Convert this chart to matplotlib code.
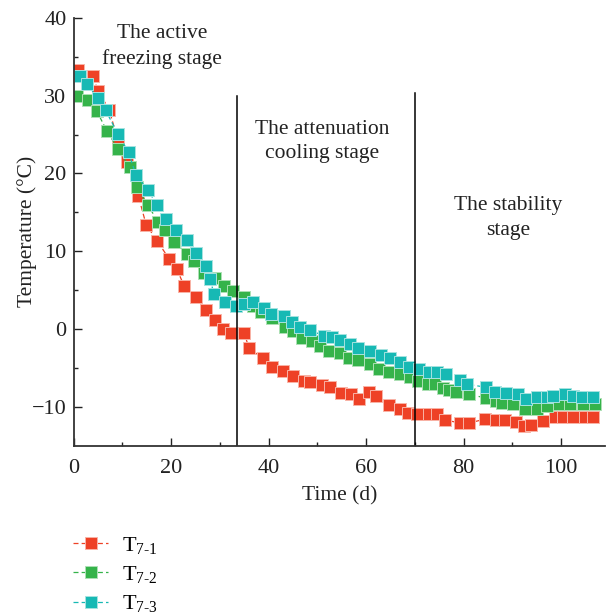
import matplotlib
matplotlib.use("Agg")
import matplotlib.pyplot as plt

plt.rcParams['font.family'] = ['Liberation Serif', 'DejaVu Serif']
plt.rcParams['mathtext.fontset'] = 'custom'
plt.rcParams['mathtext.rm'] = 'Liberation Serif'
plt.rcParams['mathtext.it'] = 'Liberation Serif:italic'

# ---- data ----
t1_x = [1.0, 3.9, 5.1, 7.3, 9.2, 11.0, 13.3, 14.9, 17.2, 19.6, 21.2, 22.7,
        25.1, 27.2, 29.0, 30.6, 32.3, 35.0, 36.0, 38.9, 40.7, 42.9, 45.0, 47.2,
        48.6, 51.0, 52.7, 54.9, 56.9, 58.6, 60.7, 62.1, 64.7, 66.9, 68.6, 70.5,
        72.9, 74.6, 76.1, 79.2, 81.2, 84.4, 86.7, 88.4, 90.7, 92.4, 93.9, 96.3,
        98.7, 100.4, 102.5, 104.8, 106.5]
t1_y = [33.3, 32.5, 30.6, 28.2, 24.1, 21.5, 17.1, 13.4, 11.3, 9.0, 7.7, 5.5,
        4.1, 2.4, 1.2, 0.0, -0.5, -0.5, -2.5, -3.8, -4.9, -5.4, -6.0, -6.7,
        -6.8, -7.2, -7.5, -8.2, -8.4, -9.0, -8.1, -8.6, -9.8, -10.3, -10.8, -11.0,
        -10.9, -10.9, -11.7, -12.1, -12.1, -11.6, -11.7, -11.7, -12.0, -12.5, -12.4, -11.8,
        -11.3, -11.3, -11.3, -11.3, -11.3]

t2_x = [0.8, 3.0, 4.8, 6.9, 9.2, 11.5, 13.0, 15.2, 17.4, 18.8, 20.6, 23.2,
        24.8, 26.8, 29.1, 30.9, 32.7, 34.9, 36.8, 38.5, 40.7, 43.4, 45.1, 46.9, 48.9,
        50.6, 52.5, 54.7, 56.4, 58.4, 60.9, 62.7, 64.8, 67.0, 69.0, 70.7, 72.6,
        74.1, 75.7, 77.1, 78.5, 81.2, 84.5, 86.6, 87.8, 90.1, 92.5, 95.1, 97.2,
        99.5, 101.9, 104.4, 106.9]
t2_y = [30.0, 29.5, 28.0, 25.4, 23.1, 20.8, 18.2, 16.0, 13.7, 12.7, 11.2, 9.7,
        8.8, 7.2, 6.5, 5.5, 4.9, 4.1, 3.0, 2.2, 1.4, 0.3, -0.3, -1.2, -1.5,
        -2.2, -2.8, -3.1, -3.8, -4.0, -4.5, -5.2, -5.6, -5.8, -6.2, -6.7, -7.1,
        -7.1, -7.6, -7.9, -8.1, -8.4, -8.9, -9.3, -9.5, -9.7, -10.3, -10.3, -9.9,
        -9.7, -9.6, -9.6, -9.6]

t3_x = [1.3, 2.8, 5.0, 6.6, 9.1, 11.3, 12.8, 15.2, 17.1, 19.0, 21.0, 23.2,
        25.2, 27.2, 27.9, 28.9, 31.0, 33.4, 35.0, 36.8, 39.1, 40.6, 43.2, 44.8,
        46.5, 48.6, 51.4, 53.0, 54.6, 56.8, 58.3, 60.9, 63.1, 65.0, 66.9, 68.9,
        70.8, 72.9, 74.6, 76.3, 79.2, 80.6, 84.5, 86.4, 88.7, 91.1, 92.9, 95.0,
        97.2, 98.3, 100.7, 102.5, 104.2, 106.6]
t3_y = [32.6, 31.5, 29.7, 28.1, 25.1, 22.7, 19.8, 17.9, 16.0, 14.2, 12.7, 11.5,
        9.8, 8.1, 6.4, 4.5, 3.5, 2.9, 3.2, 3.4, 2.7, 1.9, 1.6, 0.9,
        0.3, -0.2, -0.9, -1.0, -1.4, -1.9, -2.5, -2.9, -3.4, -3.8, -4.3, -4.9,
        -5.1, -5.5, -5.5, -5.8, -6.6, -7.1, -7.5, -8.1, -8.2, -8.4, -9.0, -8.8,
        -8.8, -8.6, -8.4, -8.6, -8.8, -8.8]

series_labels = ['T$_{7\u20101}$', 'T$_{7\u20102}$', 'T$_{7\u20103}$']
series_colors = ['#EE4126', '#35B34A', '#17B9B4']
edge_colors = ['#F9B3A6', '#ADE0B5', '#A6E3E0']

stage_bounds = [33.5, 70.0]
stage_tops = [30.0, 30.3]
stage_texts = ['The active\nfreezing stage', 'The attenuation\ncooling stage',
               'The stability\nstage']
stage_text_pos = [(18.2, 36.3), (51.0, 24.1), (89.2, 14.3)]

# ---- figure ----
fig = plt.figure(figsize=(6.11, 6.16), dpi=100)
ax = fig.add_axes([73.5 / 611, 1 - 445.5 / 616, (605 - 73.5) / 611, (445.5 - 18) / 616])

for xs, ys, lab, c, ec in zip([t1_x, t2_x, t3_x], [t1_y, t2_y, t3_y],
                              series_labels, series_colors, edge_colors):
    ax.plot(xs, ys, linestyle=(0, (4, 2.5)), linewidth=0.9, color=c,
            marker='s', markersize=8.3, markerfacecolor=c, markeredgecolor=ec,
            markeredgewidth=0.7, label=lab)

for xb, yt in zip(stage_bounds, stage_tops):
    ax.plot([xb, xb], [-15, yt], color='black', linewidth=1.1)

for txt, (tx, ty) in zip(stage_texts, stage_text_pos):
    ax.text(tx, ty, txt, ha='center', va='center', fontsize=15.5,
            linespacing=1.4, color='#222222')

ax.set_xlim(0, 109)
ax.set_ylim(-15, 40)
ax.set_xticks([0, 20, 40, 60, 80, 100])
ax.set_xticks([10, 30, 50, 70, 90], minor=True)
ax.set_yticks([-10, 0, 10, 20, 30, 40])
ax.set_yticks([-5, 5, 15, 25, 35], minor=True)
ax.tick_params(which='both', direction='in', labelsize=16, colors='#222222',
               width=1.0)
ax.tick_params(which='major', length=6)
ax.tick_params(which='minor', length=3)
ax.tick_params(axis='x', pad=10)
ax.tick_params(axis='y', pad=5)
for s in ['top', 'right']:
    ax.spines[s].set_visible(False)
for s in ['left', 'bottom']:
    ax.spines[s].set_linewidth(1.3)
    ax.spines[s].set_color('#333333')

ax.set_xlabel('Time (d)', fontsize=15.5, color='#222222', labelpad=6)
ax.set_ylabel('Temperature (°C)', fontsize=15.5, color='#222222')
ax.yaxis.set_label_coords(-0.068, 0.5)

handles, labels = ax.get_legend_handles_labels()
fig.legend(handles, labels, loc='upper left',
           bbox_to_anchor=(64 / 611, 1 - 526 / 616), frameon=False,
           borderaxespad=0, fontsize=16, handlelength=1.6, labelspacing=0.37,
           handletextpad=0.63)

fig.savefig('out.png', dpi=100)
